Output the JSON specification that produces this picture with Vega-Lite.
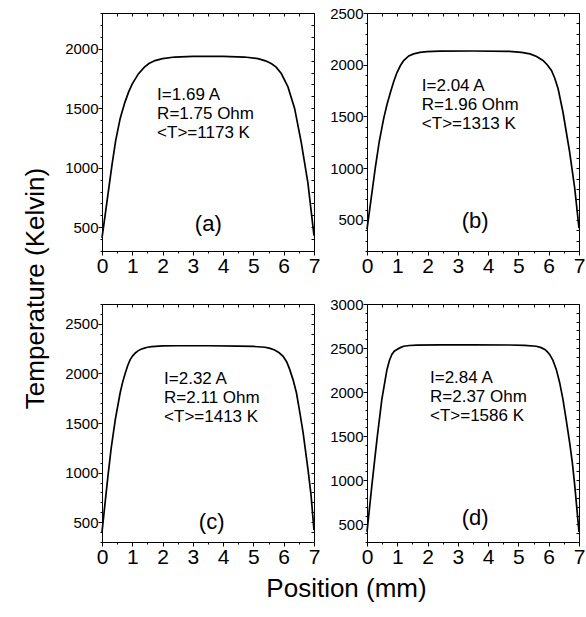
{
  "$schema": "https://vega.github.io/schema/vega-lite/v6.json",
  "background": "white",
  "padding": {"left": 22, "top": 6, "right": 4, "bottom": 4},
  "config": {
    "view": {"stroke": null},
    "font": "Liberation Sans",
    "axis": {"grid": false, "domainColor": "#000", "tickColor": "#000", "labelColor": "#000", "titleColor": "#000", "labelFont": "Liberation Sans", "titleFont": "Liberation Sans", "titleFontWeight": "normal", "labelFlush": false, "labelOverlap": false, "domainWidth": 1, "tickWidth": 1},
    "text": {"font": "Liberation Sans", "color": "#000"}
  },
  "datasets": {
    "a": [
      {"x": 0, "T": 410}, {"x": 0.1, "T": 596}, {"x": 0.2, "T": 782}, {"x": 0.33, "T": 1024}, {"x": 0.45, "T": 1225}, {"x": 0.6, "T": 1414}, {"x": 0.75, "T": 1545}, {"x": 0.88, "T": 1637}, {"x": 1.0, "T": 1705}, {"x": 1.2, "T": 1788}, {"x": 1.4, "T": 1845}, {"x": 1.55, "T": 1875}, {"x": 1.75, "T": 1900}, {"x": 2.0, "T": 1917}, {"x": 2.4, "T": 1930}, {"x": 3.0, "T": 1935}, {"x": 3.5, "T": 1936}, {"x": 4.0, "T": 1935}, {"x": 4.7, "T": 1930}, {"x": 5.15, "T": 1916}, {"x": 5.4, "T": 1898}, {"x": 5.6, "T": 1873}, {"x": 5.75, "T": 1845}, {"x": 5.92, "T": 1791}, {"x": 6.14, "T": 1679}, {"x": 6.36, "T": 1498}, {"x": 6.58, "T": 1210}, {"x": 6.8, "T": 870}, {"x": 7.0, "T": 430}
    ],
    "b": [
      {"x": 0, "T": 410}, {"x": 0.12, "T": 670}, {"x": 0.27, "T": 997}, {"x": 0.4, "T": 1250}, {"x": 0.55, "T": 1479}, {"x": 0.66, "T": 1615}, {"x": 0.77, "T": 1730}, {"x": 0.88, "T": 1835}, {"x": 0.99, "T": 1925}, {"x": 1.1, "T": 1990}, {"x": 1.21, "T": 2041}, {"x": 1.38, "T": 2085}, {"x": 1.54, "T": 2105}, {"x": 1.75, "T": 2120}, {"x": 1.98, "T": 2127}, {"x": 2.4, "T": 2132}, {"x": 3.5, "T": 2133}, {"x": 4.7, "T": 2130}, {"x": 5.1, "T": 2120}, {"x": 5.38, "T": 2105}, {"x": 5.6, "T": 2080}, {"x": 5.81, "T": 2041}, {"x": 5.95, "T": 2000}, {"x": 6.09, "T": 1944}, {"x": 6.2, "T": 1870}, {"x": 6.31, "T": 1768}, {"x": 6.47, "T": 1543}, {"x": 6.58, "T": 1350}, {"x": 6.69, "T": 1158}, {"x": 6.86, "T": 804}, {"x": 7.0, "T": 420}
    ],
    "c": [
      {"x": 0, "T": 400}, {"x": 0.1, "T": 690}, {"x": 0.2, "T": 975}, {"x": 0.3, "T": 1240}, {"x": 0.44, "T": 1537}, {"x": 0.6, "T": 1805}, {"x": 0.68, "T": 1910}, {"x": 0.77, "T": 2005}, {"x": 0.85, "T": 2080}, {"x": 0.93, "T": 2139}, {"x": 1.02, "T": 2180}, {"x": 1.1, "T": 2206}, {"x": 1.2, "T": 2230}, {"x": 1.32, "T": 2248}, {"x": 1.5, "T": 2264}, {"x": 1.65, "T": 2271}, {"x": 2.0, "T": 2277}, {"x": 2.5, "T": 2279}, {"x": 3.5, "T": 2279}, {"x": 4.5, "T": 2276}, {"x": 5.0, "T": 2272}, {"x": 5.38, "T": 2264}, {"x": 5.55, "T": 2252}, {"x": 5.7, "T": 2236}, {"x": 5.85, "T": 2208}, {"x": 5.98, "T": 2172}, {"x": 6.1, "T": 2115}, {"x": 6.2, "T": 2038}, {"x": 6.31, "T": 1935}, {"x": 6.42, "T": 1805}, {"x": 6.53, "T": 1610}, {"x": 6.64, "T": 1403}, {"x": 6.8, "T": 1035}, {"x": 6.9, "T": 780}, {"x": 7.0, "T": 420}
    ],
    "d": [
      {"x": 0, "T": 414}, {"x": 0.16, "T": 940}, {"x": 0.33, "T": 1468}, {"x": 0.49, "T": 1919}, {"x": 0.66, "T": 2258}, {"x": 0.74, "T": 2360}, {"x": 0.82, "T": 2428}, {"x": 0.9, "T": 2465}, {"x": 0.99, "T": 2484}, {"x": 1.1, "T": 2505}, {"x": 1.21, "T": 2521}, {"x": 1.4, "T": 2529}, {"x": 1.65, "T": 2533}, {"x": 2.4, "T": 2537}, {"x": 3.5, "T": 2537}, {"x": 4.72, "T": 2535}, {"x": 5.2, "T": 2530}, {"x": 5.59, "T": 2521}, {"x": 5.75, "T": 2505}, {"x": 5.87, "T": 2484}, {"x": 5.95, "T": 2460}, {"x": 6.03, "T": 2428}, {"x": 6.14, "T": 2360}, {"x": 6.25, "T": 2258}, {"x": 6.36, "T": 2110}, {"x": 6.47, "T": 1919}, {"x": 6.58, "T": 1680}, {"x": 6.69, "T": 1430}, {"x": 6.78, "T": 1200}, {"x": 6.86, "T": 940}, {"x": 7.0, "T": 414}
    ]
  },
  "columns": 2,
  "spacing": 53,
  "bounds": "flush",
  "concat": [
    {
      "width": 212, "height": 238,
      "resolve": {"axis": {"x": "independent", "y": "independent"}},
      "layer": [
        {
          "data": {"name": "a"},
          "mark": {"type": "line", "color": "#000", "strokeWidth": 1.7},
          "encoding": {
            "x": {"field": "x", "type": "quantitative", "scale": {"domain": [0, 7], "nice": false, "zero": false},
              "axis": {"orient": "bottom", "title": null, "values": [0,0.5,1,1.5,2,2.5,3,3.5,4,4.5,5,5.5,6,6.5,7], "labelExpr": "datum.value % 1 === 0 ? format(datum.value, 'd') : ''", "tickSize": {"condition": {"test": "datum.value % 1 === 0", "value": 4}, "value": 2}, "labelFontSize": 21, "labelPadding": 0}},
            "y": {"field": "T", "type": "quantitative", "scale": {"domain": [300, 2300], "nice": false, "zero": false},
              "axis": {"orient": "left", "title": "Temperature (Kelvin)", "titleFontSize": 26, "titleX": -59, "titleY": 275, "titleAngle": 270, "titleAlign": "center", "titleBaseline": "alphabetic", "values": [300,400,500,600,700,800,900,1000,1100,1200,1300,1400,1500,1600,1700,1800,1900,2000,2100,2200,2300], "labelExpr": "datum.value % 500 === 0 ? format(datum.value, 'd') : ''", "tickSize": {"condition": {"test": "datum.value % 500 === 0", "value": 4}, "value": 2}, "labelFontSize": 15, "labelPadding": 0}}
          }
        },
        {
          "data": {"values": [{"x": 1.82, "T": 1567, "label": "I=1.69 A\nR=1.75 Ohm\n<T>=1173 K"}]},
          "mark": {"type": "text", "align": "left", "baseline": "alphabetic", "fontSize": 17, "lineBreak": "\n", "lineHeight": 19},
          "encoding": {
            "x": {"field": "x", "type": "quantitative", "scale": {"domain": [0, 7], "nice": false, "zero": false},
              "axis": {"orient": "top", "title": null, "labels": false, "values": [0,0.5,1,1.5,2,2.5,3,3.5,4,4.5,5,5.5,6,6.5,7], "tickSize": -3}},
            "y": {"field": "T", "type": "quantitative", "scale": {"domain": [300, 2300], "nice": false, "zero": false},
              "axis": {"orient": "right", "title": null, "labels": false, "values": [300,400,500,600,700,800,900,1000,1100,1200,1300,1400,1500,1600,1700,1800,1900,2000,2100,2200,2300], "tickSize": -3}},
            "text": {"field": "label"}
          }
        },
        {
          "data": {"values": [{"x": 3.51, "T": 471, "label": "(a)"}]},
          "mark": {"type": "text", "align": "center", "baseline": "alphabetic", "fontSize": 22},
          "encoding": {
            "x": {"field": "x", "type": "quantitative", "scale": {"domain": [0, 7], "nice": false, "zero": false}, "axis": null},
            "y": {"field": "T", "type": "quantitative", "scale": {"domain": [300, 2300], "nice": false, "zero": false}, "axis": null},
            "text": {"field": "label"}
          }
        }
      ]
    },
    {
      "width": 212, "height": 238,
      "resolve": {"axis": {"x": "independent", "y": "independent"}},
      "layer": [
        {
          "data": {"name": "b"},
          "mark": {"type": "line", "color": "#000", "strokeWidth": 1.7},
          "encoding": {
            "x": {"field": "x", "type": "quantitative", "scale": {"domain": [0, 7], "nice": false, "zero": false},
              "axis": {"orient": "bottom", "title": null, "values": [0,0.5,1,1.5,2,2.5,3,3.5,4,4.5,5,5.5,6,6.5,7], "labelExpr": "datum.value % 1 === 0 ? format(datum.value, 'd') : ''", "tickSize": {"condition": {"test": "datum.value % 1 === 0", "value": 4}, "value": 2}, "labelFontSize": 21, "labelPadding": 0}},
            "y": {"field": "T", "type": "quantitative", "scale": {"domain": [200, 2500], "nice": false, "zero": false},
              "axis": {"orient": "left", "title": null, "values": [200,300,400,500,600,700,800,900,1000,1100,1200,1300,1400,1500,1600,1700,1800,1900,2000,2100,2200,2300,2400,2500], "labelExpr": "datum.value % 500 === 0 ? format(datum.value, 'd') : ''", "tickSize": {"condition": {"test": "datum.value % 500 === 0", "value": 4}, "value": 2}, "labelFontSize": 15, "labelPadding": 0}}
          }
        },
        {
          "data": {"values": [{"x": 1.81, "T": 1742, "label": "I=2.04 A\nR=1.96 Ohm\n<T>=1313 K"}]},
          "mark": {"type": "text", "align": "left", "baseline": "alphabetic", "fontSize": 17, "lineBreak": "\n", "lineHeight": 19},
          "encoding": {
            "x": {"field": "x", "type": "quantitative", "scale": {"domain": [0, 7], "nice": false, "zero": false},
              "axis": {"orient": "top", "title": null, "labels": false, "values": [0,0.5,1,1.5,2,2.5,3,3.5,4,4.5,5,5.5,6,6.5,7], "tickSize": -3}},
            "y": {"field": "T", "type": "quantitative", "scale": {"domain": [200, 2500], "nice": false, "zero": false},
              "axis": {"orient": "right", "title": null, "labels": false, "values": [200,300,400,500,600,700,800,900,1000,1100,1200,1300,1400,1500,1600,1700,1800,1900,2000,2100,2200,2300,2400,2500], "tickSize": -3}},
            "text": {"field": "label"}
          }
        },
        {
          "data": {"values": [{"x": 3.57, "T": 419, "label": "(b)"}]},
          "mark": {"type": "text", "align": "center", "baseline": "alphabetic", "fontSize": 22},
          "encoding": {
            "x": {"field": "x", "type": "quantitative", "scale": {"domain": [0, 7], "nice": false, "zero": false}, "axis": null},
            "y": {"field": "T", "type": "quantitative", "scale": {"domain": [200, 2500], "nice": false, "zero": false}, "axis": null},
            "text": {"field": "label"}
          }
        }
      ]
    },
    {
      "width": 212, "height": 238,
      "resolve": {"axis": {"x": "independent", "y": "independent"}},
      "layer": [
        {
          "data": {"name": "c"},
          "mark": {"type": "line", "color": "#000", "strokeWidth": 1.7},
          "encoding": {
            "x": {"field": "x", "type": "quantitative", "scale": {"domain": [0, 7], "nice": false, "zero": false},
              "axis": {"orient": "bottom", "title": "Position (mm)", "titleFontSize": 26, "titleX": 244, "titleY": 54, "titleAlign": "center", "titleBaseline": "alphabetic", "values": [0,0.5,1,1.5,2,2.5,3,3.5,4,4.5,5,5.5,6,6.5,7], "labelExpr": "datum.value % 1 === 0 ? format(datum.value, 'd') : ''", "tickSize": {"condition": {"test": "datum.value % 1 === 0", "value": 4}, "value": 2}, "labelFontSize": 21, "labelPadding": 0}},
            "y": {"field": "T", "type": "quantitative", "scale": {"domain": [300, 2700], "nice": false, "zero": false},
              "axis": {"orient": "left", "title": null, "values": [300,400,500,600,700,800,900,1000,1100,1200,1300,1400,1500,1600,1700,1800,1900,2000,2100,2200,2300,2400,2500,2600,2700], "labelExpr": "datum.value % 500 === 0 ? format(datum.value, 'd') : ''", "tickSize": {"condition": {"test": "datum.value % 500 === 0", "value": 4}, "value": 2}, "labelFontSize": 15, "labelPadding": 0}}
          }
        },
        {
          "data": {"values": [{"x": 2.05, "T": 1898, "label": "I=2.32 A\nR=2.11 Ohm\n<T>=1413 K"}]},
          "mark": {"type": "text", "align": "left", "baseline": "alphabetic", "fontSize": 17, "lineBreak": "\n", "lineHeight": 19},
          "encoding": {
            "x": {"field": "x", "type": "quantitative", "scale": {"domain": [0, 7], "nice": false, "zero": false},
              "axis": {"orient": "top", "title": null, "labels": false, "values": [0,0.5,1,1.5,2,2.5,3,3.5,4,4.5,5,5.5,6,6.5,7], "tickSize": -3}},
            "y": {"field": "T", "type": "quantitative", "scale": {"domain": [300, 2700], "nice": false, "zero": false},
              "axis": {"orient": "right", "title": null, "labels": false, "values": [300,400,500,600,700,800,900,1000,1100,1200,1300,1400,1500,1600,1700,1800,1900,2000,2100,2200,2300,2400,2500,2600,2700], "tickSize": -3}},
            "text": {"field": "label"}
          }
        },
        {
          "data": {"values": [{"x": 3.62, "T": 433, "label": "(c)"}]},
          "mark": {"type": "text", "align": "center", "baseline": "alphabetic", "fontSize": 22},
          "encoding": {
            "x": {"field": "x", "type": "quantitative", "scale": {"domain": [0, 7], "nice": false, "zero": false}, "axis": null},
            "y": {"field": "T", "type": "quantitative", "scale": {"domain": [300, 2700], "nice": false, "zero": false}, "axis": null},
            "text": {"field": "label"}
          }
        }
      ]
    },
    {
      "width": 212, "height": 238,
      "resolve": {"axis": {"x": "independent", "y": "independent"}},
      "layer": [
        {
          "data": {"name": "d"},
          "mark": {"type": "line", "color": "#000", "strokeWidth": 1.7},
          "encoding": {
            "x": {"field": "x", "type": "quantitative", "scale": {"domain": [0, 7], "nice": false, "zero": false},
              "axis": {"orient": "bottom", "title": null, "values": [0,0.5,1,1.5,2,2.5,3,3.5,4,4.5,5,5.5,6,6.5,7], "labelExpr": "datum.value % 1 === 0 ? format(datum.value, 'd') : ''", "tickSize": {"condition": {"test": "datum.value % 1 === 0", "value": 4}, "value": 2}, "labelFontSize": 21, "labelPadding": 0}},
            "y": {"field": "T", "type": "quantitative", "scale": {"domain": [300, 3000], "nice": false, "zero": false},
              "axis": {"orient": "left", "title": null, "values": [300,400,500,600,700,800,900,1000,1100,1200,1300,1400,1500,1600,1700,1800,1900,2000,2100,2200,2300,2400,2500,2600,2700,2800,2900,3000], "labelExpr": "datum.value % 500 === 0 ? format(datum.value, 'd') : ''", "tickSize": {"condition": {"test": "datum.value % 500 === 0", "value": 4}, "value": 2}, "labelFontSize": 15, "labelPadding": 0}}
          }
        },
        {
          "data": {"values": [{"x": 2.08, "T": 2108, "label": "I=2.84 A\nR=2.37 Ohm\n<T>=1586 K"}]},
          "mark": {"type": "text", "align": "left", "baseline": "alphabetic", "fontSize": 17, "lineBreak": "\n", "lineHeight": 19},
          "encoding": {
            "x": {"field": "x", "type": "quantitative", "scale": {"domain": [0, 7], "nice": false, "zero": false},
              "axis": {"orient": "top", "title": null, "labels": false, "values": [0,0.5,1,1.5,2,2.5,3,3.5,4,4.5,5,5.5,6,6.5,7], "tickSize": -3}},
            "y": {"field": "T", "type": "quantitative", "scale": {"domain": [300, 3000], "nice": false, "zero": false},
              "axis": {"orient": "right", "title": null, "labels": false, "values": [300,400,500,600,700,800,900,1000,1100,1200,1300,1400,1500,1600,1700,1800,1900,2000,2100,2200,2300,2400,2500,2600,2700,2800,2900,3000], "tickSize": -3}},
            "text": {"field": "label"}
          }
        },
        {
          "data": {"values": [{"x": 3.57, "T": 489, "label": "(d)"}]},
          "mark": {"type": "text", "align": "center", "baseline": "alphabetic", "fontSize": 22},
          "encoding": {
            "x": {"field": "x", "type": "quantitative", "scale": {"domain": [0, 7], "nice": false, "zero": false}, "axis": null},
            "y": {"field": "T", "type": "quantitative", "scale": {"domain": [300, 3000], "nice": false, "zero": false}, "axis": null},
            "text": {"field": "label"}
          }
        }
      ]
    }
  ]
}
